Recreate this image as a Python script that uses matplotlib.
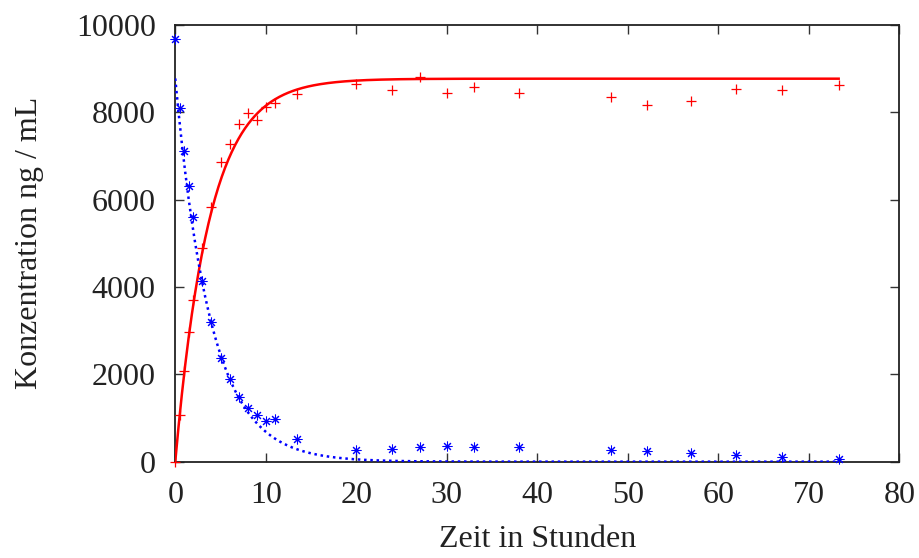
import numpy as np
import matplotlib
matplotlib.use("Agg")
import matplotlib.pyplot as plt

# --- data ---
t_hours = [0, 0.5, 1, 1.5, 2, 3, 4, 5, 6, 7, 8, 9, 10, 11, 13.5, 20, 24, 27, 30,
           33, 38, 48.2, 52.1, 57, 62, 67, 73.3]
conc_red = [0, 1070, 2075, 2975, 3700, 4880, 5835, 6865, 7270, 7720, 7985, 7820,
            8125, 8200, 8410, 8635, 8500, 8810, 8435, 8580, 8445, 8345, 8160, 8245,
            8535, 8515, 8615]
conc_blue = [9665, 8085, 7115, 6315, 5590, 4135, 3190, 2365, 1885, 1470, 1235, 1060,
             930, 975, 520, 268, 282, 330, 350, 336, 336, 275, 244, 198, 153, 107, 53]

# fitted model parameters
fit_A_red = 8765.0
fit_k_red = 0.265
fit_A_blue = 8770.0
fit_k_blue = 0.255
fit_t_end = 73.3

x_ticks = [0, 10, 20, 30, 40, 50, 60, 70, 80]
y_ticks = [0, 2000, 4000, 6000, 8000, 10000]

plt.rcParams['font.family'] = ['Liberation Serif', 'DejaVu Serif']

fig = plt.figure(figsize=(9.2, 5.58), dpi=100)
ax = fig.add_axes([0.1905, 0.1726, 0.7870, 0.7831])

tt = np.linspace(0, fit_t_end, 600)
ax.plot(tt, fit_A_red * (1 - np.exp(-fit_k_red * tt)), color='#ff0000', lw=1.8, zorder=3)
ax.plot(tt, fit_A_blue * np.exp(-fit_k_blue * tt), color='#0000ff', lw=1.8,
        linestyle=(0, (1.0, 1.5)), zorder=3)

ax.plot(t_hours, conc_red, linestyle='none', marker='+', color='#ff0000',
        markersize=7, markeredgewidth=0.9, zorder=4, clip_on=False)
ax.plot(t_hours, conc_blue, linestyle='none', marker=(8, 2, 0), color='#0000ff',
        markersize=7, markeredgewidth=0.75, zorder=4, clip_on=False)

ax.set_xlim(0, 80)
ax.set_ylim(0, 10000)
ax.set_xticks(x_ticks)
ax.set_yticks(y_ticks)
ax.tick_params(direction='in', length=6.5, width=1.0, top=True, right=True,
               labelsize=23, color='#333333', labelcolor='#222222')
ax.tick_params(axis='x', pad=14)
ax.tick_params(axis='y', pad=14)
for s in ax.spines.values():
    s.set_linewidth(1.3)
    s.set_color('#222222')

ax.set_xlabel('Zeit in Stunden', fontsize=23, labelpad=11, color='#222222')
ax.set_ylabel('Konzentration ng / mL', fontsize=23, labelpad=23, color='#222222')

fig.savefig('out.png', dpi=100)
